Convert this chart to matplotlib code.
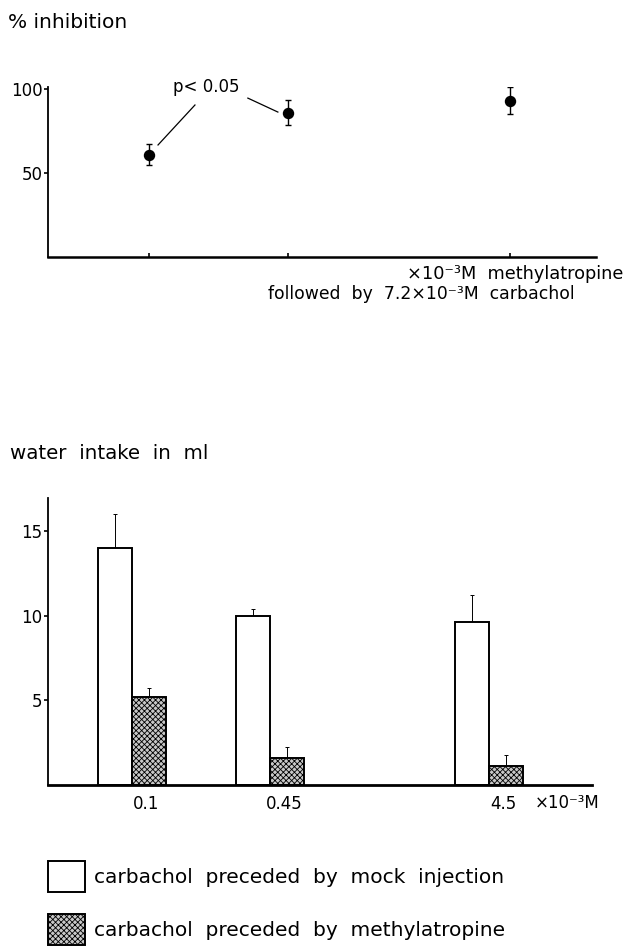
import numpy as np
import matplotlib
matplotlib.use('Agg')
from matplotlib import pyplot as plt
from matplotlib.patches import Patch
from matplotlib.transforms import blended_transform_factory

plt.rcParams['font.family'] = ['DejaVu Sans']
plt.rcParams['hatch.linewidth'] = 0.6
plt.rcParams['hatch.color'] = '#222222'

# --- data ---
# top panel: % inhibition of carbachol drinking by methylatropine
inhib_mean = [61, 86, 93]
inhib_err = [6.5, 7.5, 8.0]

# bottom panel: water intake in ml
doses = ['0.1', '0.45', '4.5']
mock_mean = [14.0, 10.0, 9.6]
mock_err = [2.0, 0.4, 1.6]
atro_mean = [5.2, 1.6, 1.1]
atro_err = [0.55, 0.62, 0.65]

leg_labels = ['carbachol  preceded  by  mock  injection',
              'carbachol  preceded  by  methylatropine']

# x positions of the three doses (not evenly spaced in the original)
top_pos = np.array([1.0, 2.0, 3.6])
bar_pos = np.array([1.0, 1.99, 3.57])
bw = 0.245

fig = plt.figure(figsize=(6.27, 9.47), dpi=100)

# ---------------- top panel ----------------
ax1 = fig.add_axes([0.0766, 0.7286, 0.874, 0.1795])
ax1.errorbar(top_pos, inhib_mean, yerr=inhib_err, fmt='o', color='black',
             ms=7.2, elinewidth=1.0, capsize=2.2, capthick=1.0)
ax1.set_xlim(0.273, 4.219)
ax1.set_ylim(0, 101.2)
ax1.set_yticks([50, 100])
ax1.set_xticks(top_pos)
ax1.set_xticklabels([])
ax1.tick_params(axis='y', direction='out', length=3, width=1.2, labelsize=12, pad=1)
ax1.tick_params(axis='x', direction='in', length=3, width=1.2)
for s in ['top', 'right']:
    ax1.spines[s].set_visible(False)
ax1.spines['left'].set_linewidth(1.3)
ax1.spines['bottom'].set_linewidth(1.8)

ax1.text(1.41, 101.2, 'p< 0.05', fontsize=12, ha='center', va='center', clip_on=False)
ax1.plot([1.331, 1.065], [90.5, 66.7], color='black', lw=0.9, clip_on=False)
ax1.plot([1.712, 1.928], [94.6, 86.3], color='black', lw=0.9, clip_on=False)

fig.text(8 / 627, 1 - 23 / 947, '% inhibition', fontsize=14.5, ha='left', va='center')
fig.text(623 / 627, 1 - 274 / 947, '×10⁻³M  methylatropine', fontsize=12.8,
         ha='right', va='center')
fig.text(575 / 627, 1 - 294 / 947, 'followed  by  7.2×10⁻³M  carbachol', fontsize=12.4,
         ha='right', va='center')

# ---------------- bottom panel ----------------
ax2 = fig.add_axes([0.0766, 0.1711, 0.8676, 0.303])
b1 = ax2.bar(bar_pos - bw, mock_mean, width=bw, color='white', edgecolor='black',
             linewidth=1.4, zorder=2)
b2 = ax2.bar(bar_pos, atro_mean, width=bw, color='#c8c8c8', edgecolor='black',
             linewidth=1.4, hatch='xxxxxx', zorder=2)
ax2.errorbar(bar_pos - bw, mock_mean, yerr=[np.zeros(3), mock_err], fmt='none',
             ecolor='black', elinewidth=0.7, capsize=1.5, capthick=0.7, zorder=1)
ax2.errorbar(bar_pos, atro_mean, yerr=[np.zeros(3), atro_err], fmt='none',
             ecolor='black', elinewidth=0.7, capsize=1.5, capthick=0.7, zorder=1)

ax2.set_xlim(0.273, 4.187)
ax2.set_ylim(0, 16.95)
ax2.set_yticks([5, 10, 15])
ax2.set_xticks(bar_pos - 0.02)
ax2.set_xticklabels(doses)
ax2.tick_params(axis='y', direction='out', length=3, width=1.2, labelsize=12, pad=1)
ax2.tick_params(axis='x', length=0, labelsize=12, pad=7)
for s in ['top', 'right']:
    ax2.spines[s].set_visible(False)
ax2.spines['left'].set_linewidth(1.3)
ax2.spines['bottom'].set_linewidth(2.0)

trans = blended_transform_factory(ax2.transData, ax2.transAxes)
ax2.text(4.01, -0.063, '×10⁻³M', transform=trans, fontsize=12, ha='center', va='center')

fig.text(10 / 627, 1 - 453 / 947, 'water  intake  in  ml', fontsize=14.3, ha='left', va='center')

handles = [Patch(facecolor='white', edgecolor='black', linewidth=1.4),
           Patch(facecolor='#c8c8c8', edgecolor='black', linewidth=1.4, hatch='xxxxxx')]
fig.legend(handles, leg_labels, loc='upper left', bbox_to_anchor=(48 / 627, 1 - 861 / 947),
           frameon=False, fontsize=14.5, handlelength=1.85, handleheight=2.0,
           handletextpad=0.45, labelspacing=1.1, borderpad=0, borderaxespad=0)

fig.savefig('out.png', dpi=100)
